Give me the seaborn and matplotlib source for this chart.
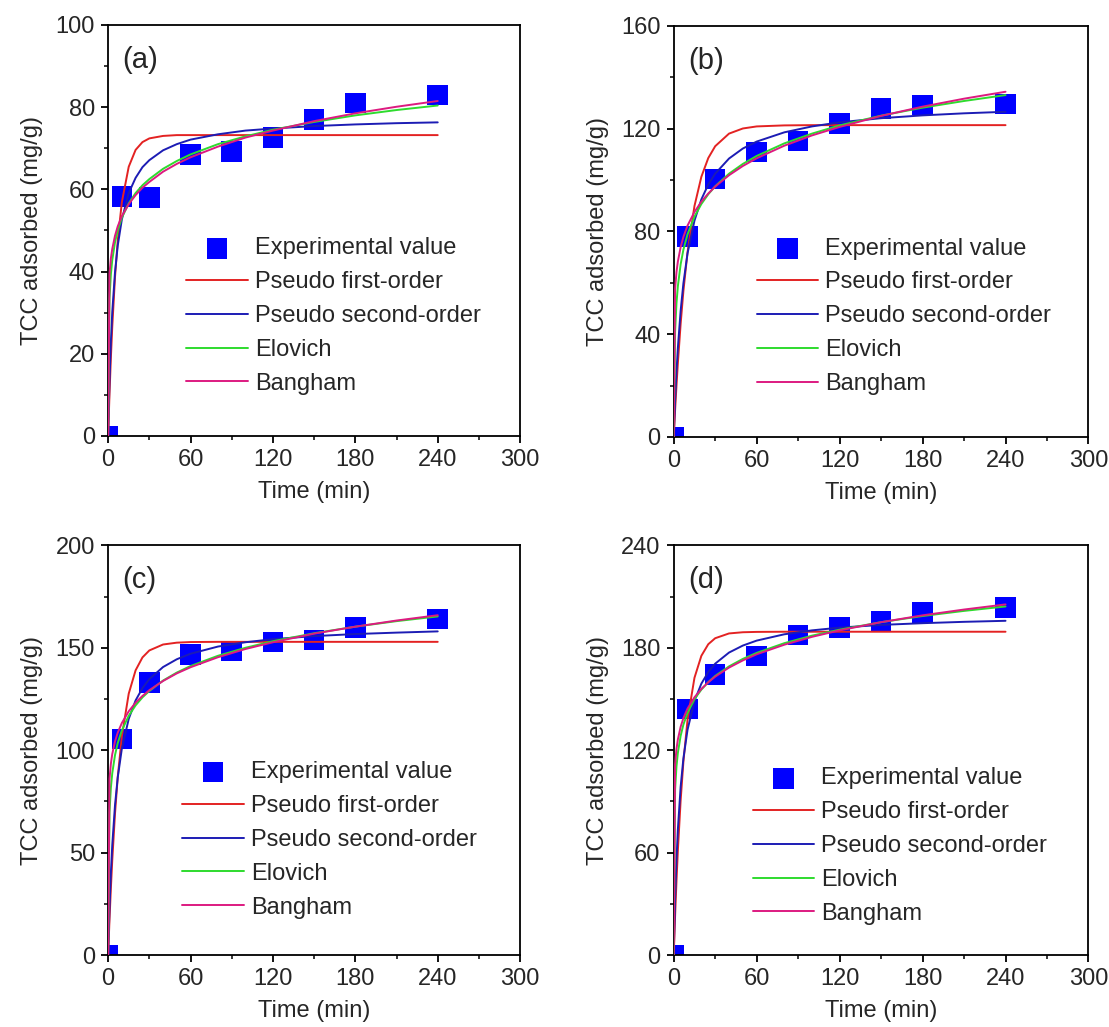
import matplotlib
matplotlib.use("Agg")
import matplotlib.pyplot as plt
from matplotlib.ticker import MultipleLocator
import seaborn as sns
import pandas as pd

# ---------------- data ----------------
t_exp = [0, 10, 30, 60, 90, 120, 150, 180, 240]
a_exp = [0, 58.2, 58.0, 68.5, 69.2, 72.6, 77.0, 81.0, 83.0]
b_exp = [0, 78.0, 100.4, 111.0, 115.3, 122.1, 127.9, 129.2, 129.6]
c_exp = [0, 105.5, 133.1, 146.6, 148.5, 152.9, 153.7, 159.9, 164.0]
d_exp = [0, 144.2, 164.2, 175.3, 187.6, 191.9, 195.4, 200.7, 203.6]

t_fit = [0, 1, 2, 3, 5, 7, 10, 15, 20, 25, 30, 40, 50, 60, 80, 100, 120, 150, 180, 210, 240]

a_pfo = [0, 10.2, 19.0, 26.5, 38.6, 47.6, 56.9, 65.5, 69.6, 71.5, 72.4, 73.0, 73.2, 73.2, 73.2, 73.2, 73.2, 73.2, 73.2, 73.2, 73.2]
a_pso = [0, 13.5, 23.0, 30.1, 39.8, 46.3, 52.7, 59.1, 62.8, 65.4, 67.1, 69.5, 71.0, 72.1, 73.4, 74.3, 74.8, 75.4, 75.8, 76.1, 76.3]
a_elo = [0, 33.5, 39.3, 42.8, 47.1, 50.0, 53.1, 56.6, 59.1, 61.0, 62.5, 65.0, 66.9, 68.5, 71.0, 72.9, 74.5, 76.4, 78.0, 79.3, 80.4]
a_ban = [0, 39.4, 43.2, 45.5, 48.7, 51.0, 53.5, 56.4, 58.6, 60.4, 61.8, 64.3, 66.2, 67.8, 70.4, 72.6, 74.3, 76.6, 78.5, 80.1, 81.5]

b_pfo = [0, 10.5, 20.0, 28.7, 44.0, 56.8, 72.0, 89.9, 101.3, 108.6, 113.2, 118.1, 120.1, 120.9, 121.3, 121.4, 121.4, 121.4, 121.4, 121.4, 121.4]
b_pso = [0, 14.0, 25.4, 34.7, 49.1, 59.8, 71.5, 84.2, 92.5, 98.3, 102.5, 108.4, 112.3, 115.0, 118.6, 120.9, 122.5, 124.1, 125.2, 126.0, 126.6]
b_elo = [0, 41.0, 52.1, 58.7, 67.2, 72.9, 78.9, 85.8, 90.7, 94.5, 97.6, 102.5, 106.3, 109.4, 114.3, 118.1, 121.3, 125.1, 128.2, 130.8, 133.1]
b_ban = [0, 57.7, 64.2, 68.3, 73.9, 77.9, 82.3, 87.6, 91.6, 94.8, 97.5, 101.9, 105.5, 108.5, 113.4, 117.4, 120.7, 125.0, 128.6, 131.7, 134.4]

c_pfo = [0, 17.3, 32.6, 46.2, 69.0, 86.9, 106.8, 127.6, 139.0, 145.3, 148.7, 151.6, 152.5, 152.8, 152.9, 152.9, 152.9, 152.9, 152.9, 152.9, 152.9]
c_pso = [0, 22.9, 40.1, 53.6, 73.1, 86.7, 100.8, 115.3, 124.3, 130.3, 134.7, 140.6, 144.4, 147.1, 150.6, 152.7, 154.2, 155.7, 156.7, 157.4, 158.0]
c_elo = [0, 69.7, 81.7, 88.7, 97.6, 103.5, 109.7, 116.8, 121.9, 125.8, 128.9, 134.0, 137.9, 141.1, 146.1, 150.0, 153.2, 157.1, 160.3, 163.0, 165.3]
c_ban = [0, 86.0, 93.4, 98.1, 104.3, 108.6, 113.3, 119.0, 123.2, 126.5, 129.3, 133.8, 137.5, 140.5, 145.4, 149.4, 152.7, 156.9, 160.3, 163.3, 165.9]

d_pfo = [0, 23.1, 43.4, 61.2, 90.5, 113.2, 137.8, 162.4, 175.3, 182.1, 185.6, 188.4, 189.1, 189.3, 189.4, 189.4, 189.4, 189.4, 189.4, 189.4, 189.4]
d_pso = [0, 32.5, 55.9, 73.6, 98.5, 115.2, 132.0, 148.8, 159.0, 165.8, 170.7, 177.2, 181.3, 184.2, 187.9, 190.2, 191.8, 193.4, 194.4, 195.2, 195.8]
d_elo = [0, 96.9, 110.5, 118.4, 128.4, 135.0, 141.9, 149.9, 155.5, 159.9, 163.5, 169.1, 173.5, 177.0, 182.7, 187.1, 190.6, 195.0, 198.6, 201.6, 204.2]
d_ban = [0, 111.8, 120.7, 126.3, 133.7, 138.8, 144.4, 151.0, 155.9, 159.8, 163.1, 168.4, 172.6, 176.2, 181.8, 186.4, 190.2, 195.0, 199.0, 202.4, 205.4]

panel_labels = ["(a)", "(b)", "(c)", "(d)"]
model_names = ["Pseudo first-order", "Pseudo second-order", "Elovich", "Bangham"]
exp_name = "Experimental value"
x_ticks = [0, 60, 120, 180, 240, 300]
y_max = [100, 160, 200, 240]
y_step = [20, 40, 50, 60]

# ---------------- style ----------------
sns.set_theme(style="ticks")
plt.rcParams["font.family"] = ["Liberation Sans", "DejaVu Sans"]
plt.rcParams["axes.linewidth"] = 1.3
plt.rcParams["xtick.major.width"] = 1.3
plt.rcParams["ytick.major.width"] = 1.3
plt.rcParams["xtick.minor.width"] = 1.1
plt.rcParams["ytick.minor.width"] = 1.1

model_colors = ["#E32222", "#1C1CB4", "#2EDB2E", "#DD1A80"]
exp_color = "#0000FF"

FS = 17

fig = plt.figure(figsize=(11.09, 10.27), dpi=100)
positions = [
    [0.0975, 0.5755, 0.3715, 0.4002],
    [0.6075, 0.5745, 0.3740, 0.4002],
    [0.0975, 0.0700, 0.3715, 0.3990],
    [0.6075, 0.0700, 0.3740, 0.3990],
]
legend_anchor = [(0.19, 0.483), (0.20, 0.485), (0.18, 0.473), (0.19, 0.458)]

exps = [a_exp, b_exp, c_exp, d_exp]
fits = [
    [a_pfo, a_pso, a_elo, a_ban],
    [b_pfo, b_pso, b_elo, b_ban],
    [c_pfo, c_pso, c_elo, c_ban],
    [d_pfo, d_pso, d_elo, d_ban],
]

for i in range(4):
    ax = fig.add_axes(positions[i])
    df_exp = pd.DataFrame({"t": t_exp, "q": exps[i]})
    sns.scatterplot(data=df_exp, x="t", y="q", ax=ax, marker="s", s=220,
                    color=exp_color, edgecolor="none", linewidth=0,
                    label=exp_name, zorder=1)
    for j in range(4):
        df_fit = pd.DataFrame({"t": t_fit, "q": fits[i][j]})
        sns.lineplot(data=df_fit, x="t", y="q", ax=ax, color=model_colors[j],
                     lw=1.4, estimator=None, sort=False,
                     label=model_names[j], zorder=2 + j)
    ax.set_xlim(0, 300)
    ax.set_ylim(0, y_max[i])
    ax.set_xticks(x_ticks)
    ax.yaxis.set_major_locator(MultipleLocator(y_step[i]))
    ax.xaxis.set_minor_locator(MultipleLocator(30))
    ax.yaxis.set_minor_locator(MultipleLocator(y_step[i] / 2))
    ax.tick_params(which="major", direction="out", length=5, labelsize=FS,
                   top=False, right=False, color="black", pad=4.5)
    ax.tick_params(which="minor", direction="out", length=3,
                   top=False, right=False, color="black")
    for sp in ax.spines.values():
        sp.set_visible(True)
        sp.set_color("black")
        sp.set_linewidth(1.3)
    ax.set_xlabel("Time (min)", fontsize=FS, labelpad=7)
    ax.set_ylabel("TCC adsorbed (mg/g)", fontsize=FS, labelpad=9)
    ax.text(0.035, 0.915, panel_labels[i], transform=ax.transAxes,
            fontsize=21, ha="left", va="center")
    handles, labels = ax.get_legend_handles_labels()
    ax.legend(handles, labels, loc="upper left", bbox_to_anchor=legend_anchor[i],
              frameon=False, fontsize=FS, handlelength=2.6, handletextpad=0.3,
              labelspacing=0.5, borderpad=0, borderaxespad=0, markerscale=1.0)

fig.savefig("out.png", dpi=100)
